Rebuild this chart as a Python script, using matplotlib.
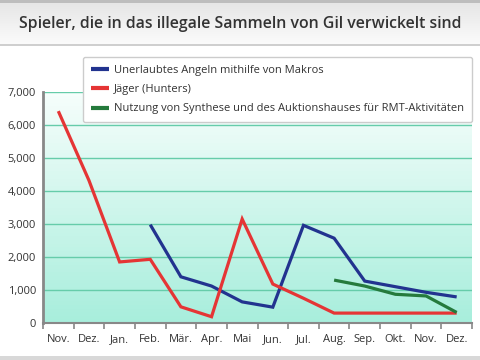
import numpy as np
import matplotlib
matplotlib.use("Agg")
import matplotlib.pyplot as plt
from matplotlib.patches import Rectangle

# data
months = ["Nov.", "Dez.", "Jan.", "Feb.", "Mär.", "Apr.", "Mai", "Jun.",
          "Jul.", "Aug.", "Sep.", "Okt.", "Nov.", "Dez."]
makros = [None, None, None, 2980, 1400, 1120, 640, 480, 2960, 2570, 1270, 1100, 930, 790]
jaeger = [6420, 4320, 1850, 1930, 490, 190, 3150, 1180, 750, 300, 300, 300, 300, 300]
synthese = [None] * 9 + [1300, 1120, 870, 820, 320]

labels = ["Unerlaubtes Angeln mithilfe von Makros",
          "Jäger (Hunters)",
          "Nutzung von Synthese und des Auktionshauses für RMT-Aktivitäten"]
colors = ["#22338f", "#e53535", "#257a3c"]

plt.rcParams['font.family'] = ['Open Sans', 'DejaVu Sans']

fig = plt.figure(figsize=(4.8, 3.6), dpi=100)

# background: title bar + bottom strip
bg = fig.add_axes([0, 0, 1, 1])
bg.set_xlim(0, 480)
bg.set_ylim(360, 0)
bg.axis("off")
grad = np.linspace(0, 1, 64).reshape(-1, 1)
bar_cmap = matplotlib.colors.LinearSegmentedColormap.from_list("bar", ["#e6e6e6", "#fbfbfb"])
bg.imshow(grad, extent=(0, 480, 44, 3), cmap=bar_cmap, aspect="auto")
bg.add_patch(Rectangle((0, 0), 480, 3, color="#bdbdbd", lw=0))
bg.add_patch(Rectangle((0, 44), 480, 2, color="#cfcfcf", lw=0))
bg.add_patch(Rectangle((0, 356), 480, 4, color="#d8d8d8", lw=0))
bg.text(240, 24, "Spieler, die in das illegale Sammeln von Gil verwickelt sind",
        ha="center", va="center", fontsize=11.4, fontweight="semibold", color="#333333")

ax = fig.add_axes([43 / 480, 1 - 323 / 360, 429 / 480, 231 / 360])
x = np.arange(len(months))
ax.set_xlim(-0.5, len(months) - 0.5)
ax.set_ylim(0, 7000)

# plot area gradient
area_cmap = matplotlib.colors.LinearSegmentedColormap.from_list("area", ["#a8eedc", "#f6fefc"])
ax.imshow(np.linspace(0, 1, 64).reshape(-1, 1), extent=(-0.5, 13.5, 0, 7000),
          cmap=area_cmap, aspect="auto", origin="lower", zorder=0)

for yv in range(1000, 8000, 1000):
    ax.axhline(yv, color="#66ccaa", lw=1, zorder=1)

def arr(v):
    return np.array([np.nan if a is None else a for a in v], dtype=float)

for vals, c, lab in zip([makros, jaeger, synthese], colors, labels):
    ax.plot(x, arr(vals), color=c, lw=2.3, label=lab, zorder=3,
            solid_joinstyle="miter", solid_capstyle="butt")

ax.set_xticks(x)
ax.set_xticklabels(months)
ax.set_xticks(np.arange(-0.5, len(months)), minor=True)
ax.tick_params(axis="x", which="major", length=0, pad=8, labelsize=8, colors="#333333")
ax.tick_params(axis="x", which="minor", length=4, width=1.2, color="#888888", direction="out")
ax.set_yticks(range(0, 8000, 1000))
ax.set_yticklabels([f"{v:,}" for v in range(0, 8000, 1000)])
ax.tick_params(axis="y", length=0, pad=5, labelsize=8, colors="#333333")

for s in ["top", "right"]:
    ax.spines[s].set_visible(False)
ax.spines["left"].set_color("#888888")
ax.spines["left"].set_linewidth(2)
ax.spines["bottom"].set_color("#888888")
ax.spines["bottom"].set_linewidth(1.5)

leg = fig.legend(loc="upper left", bbox_to_anchor=(83 / 480, 1 - 57 / 360),
                 borderaxespad=0, fontsize=8, handlelength=1.6, handletextpad=0.5,
                 labelspacing=0.75, borderpad=0.7, frameon=True,
                 fancybox=True, framealpha=1, edgecolor="#cccccc",
                 labelcolor="#333333")
for line in leg.get_lines():
    line.set_linewidth(3)

fig.savefig("out.png", dpi=100)
